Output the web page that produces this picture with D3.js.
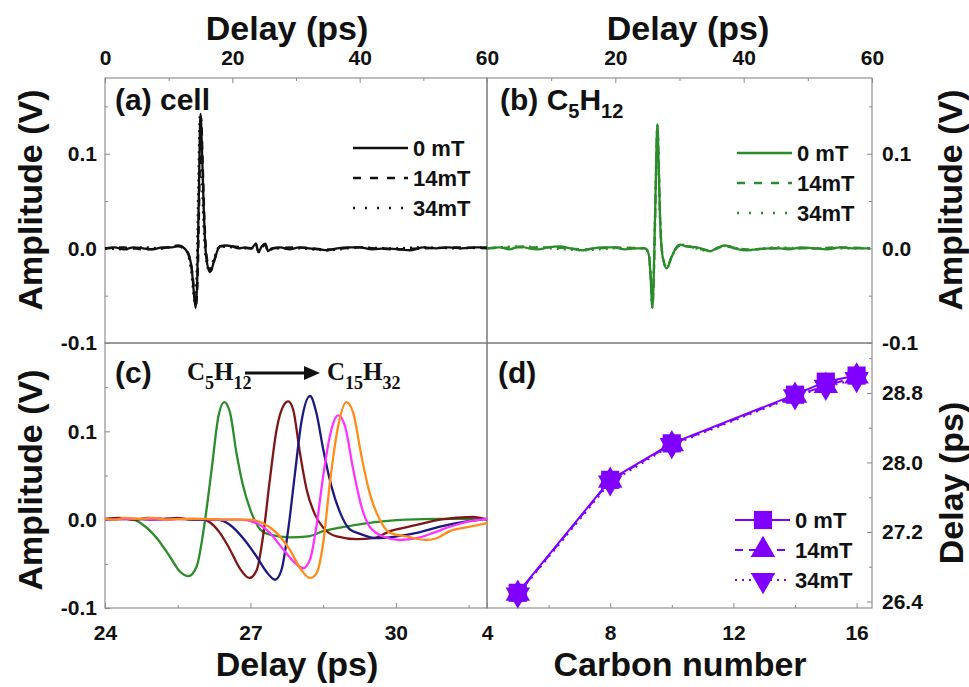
<!DOCTYPE html>
<html>
<head>
<meta charset="utf-8">
<script src="https://cdnjs.cloudflare.com/ajax/libs/d3/7.8.5/d3.min.js"></script>
<style>
body { margin: 0; background: #fff; }
svg text { font-family: "Liberation Sans", Arial, sans-serif; font-weight: bold; fill: #111; }
</style>
</head>
<body>
<svg id="chart" width="969" height="687"></svg>
<script>
// ---- data ----
// (a) empty cell, [delay ps, amplitude V]
var cell0mT = [[0,0],[1.5,0.001],[3,-0.001],[4.5,0.001],[6,0],[7.5,-0.001],[9,0.001],[10.5,0.001],[11.5,0.003],[12.3,0.001],
  [13.0,-0.005],[13.6,-0.02],[14.0,-0.05],[14.25,-0.063],[14.5,-0.03],[14.75,0.06],[15.0,0.142],[15.25,0.1],[15.5,0.044],
  [15.9,-0.009],[16.5,-0.025],[17.2,-0.012],[18.0,0.002],[19,0.003],[20,0.002],[21,0],[22,0.001],[23,0],[23.7,0.005],
  [24.1,-0.004],[24.6,0.002],[25.2,0.005],[25.6,-0.003],[26.2,0],[27.5,0.001],[29,-0.001],[30.5,0.001],[32,0],[33.5,-0.001],
  [35,-0.002],[36.5,0],[38,0.001],[40,0.001],[42,-0.001],[44,0],[46,-0.001],[48,-0.002],[50,0.001],[52,0],[54,0.001],
  [56,0],[58,0.001],[60,0.001]];
var cell14mT = [[0,0],[3,0.001],[6,-0.001],[9,0],[11.5,0.002],[13.0,-0.004],[13.7,-0.025],[14.3,-0.06],[14.6,-0.02],
  [14.85,0.07],[15.1,0.138],[15.35,0.09],[15.6,0.035],[16.0,-0.01],[16.6,-0.024],[17.3,-0.01],[18.1,0.002],[20,0.002],
  [23,0],[23.7,0.004],[24.1,-0.004],[25.2,0.004],[25.6,-0.003],[26.5,0],[30,0.001],[35,-0.001],[40,0.001],[45,-0.001],
  [50,0],[55,0.001],[60,0]];
var cell34mT = [[0,0],[3,-0.001],[6,0.001],[9,0],[11.5,0.003],[12.9,-0.004],[13.5,-0.022],[14.15,-0.058],[14.4,-0.025],
  [14.65,0.06],[14.9,0.14],[15.15,0.095],[15.4,0.04],[15.8,-0.008],[16.4,-0.024],[17.1,-0.011],[18.0,0.002],[20,0.001],
  [23,0],[23.7,0.005],[24.1,-0.003],[25.2,0.004],[25.6,-0.003],[26.5,0],[30,0],[35,-0.002],[40,0.001],[45,0],
  [50,0.001],[55,0],[60,0.001]];

// (b) C5H12
var pent0mT = [[0,0],[2,0.001],[3.5,-0.001],[5.1,0.002],[6.5,0],[8,-0.001],[9.5,0.001],[11.4,0.002],[13,0],[15,-0.002],
  [16.5,0],[18,0.001],[19.8,0.001],[21.5,-0.001],[23,0],[24.6,0],[25.2,-0.006],[25.5,-0.03],[25.76,-0.063],[26.0,-0.025],
  [26.3,0.07],[26.55,0.131],[26.75,0.09],[26.96,0.033],[27.38,-0.009],[28.0,-0.021],[28.78,-0.009],[29.5,0.001],
  [30.1,0.004],[31,0.002],[32.7,0.001],[33.8,-0.001],[34.75,-0.003],[36,0.001],[37.1,0.003],[38.5,0],[40.5,-0.002],
  [42,-0.001],[44,0],[45.7,0],[47,-0.001],[49,0.001],[50.9,0],[53,-0.001],[55,0.001],[57,0],[59.7,0]];
var pent14mT = [[0,0],[5,0.001],[10,0.001],[15,-0.001],[20,0.001],[24.6,0],[25.2,-0.005],[25.5,-0.028],[25.78,-0.062],
  [26.02,-0.024],[26.32,0.068],[26.57,0.129],[26.77,0.088],[26.98,0.032],[27.4,-0.009],[28.0,-0.02],[28.8,-0.008],
  [30.1,0.003],[34.7,-0.002],[37.1,0.002],[40.5,-0.001],[45,0],[50,0],[55,0.001],[59.7,0]];
var pent34mT = [[0,0],[5,0.002],[10,0],[15,-0.002],[20,0],[24.6,0],[25.2,-0.006],[25.5,-0.03],[25.75,-0.062],
  [26.0,-0.025],[26.3,0.069],[26.55,0.13],[26.75,0.089],[26.96,0.033],[27.4,-0.01],[28.0,-0.021],[28.8,-0.009],
  [30.1,0.004],[34.7,-0.003],[37.1,0.003],[40.5,-0.002],[45,0.001],[50,0],[55,0],[59.7,0]];

// (c) C5H12 -> C15H32, 0 mT
var c5 = [[24,0],[24.3,0.001],[24.58,0],[24.79,-0.006],[25.07,-0.021],[25.34,-0.042],[25.55,-0.059],[25.72,-0.064],
  [25.89,-0.053],[26.06,-0.002],[26.2,0.057],[26.34,0.117],[26.46,0.133],[26.58,0.121],[26.71,0.076],[26.85,0.038],
  [27.02,0.008],[27.2,-0.011],[27.4,-0.017],[27.81,-0.02],[28.19,-0.019],[28.5,-0.013],[28.85,-0.009],[29.53,-0.003],
  [30.22,0],[30.91,0.001],[31.88,0.001]];
var c8 = [[24,0.001],[24.3,0.002],[24.6,0],[24.9,0.002],[25.2,0.001],[25.5,0.002],[25.8,0],[26.03,0],[26.16,-0.003],
  [26.37,-0.015],[26.58,-0.034],[26.78,-0.055],[26.98,-0.066],[27.13,-0.057],[27.26,-0.019],[27.4,0.045],[27.54,0.102],
  [27.68,0.129],[27.78,0.134],[27.88,0.125],[28.02,0.076],[28.16,0.034],[28.33,0.006],[28.5,-0.009],[28.78,-0.019],
  [29.19,-0.022],[29.53,-0.021],[29.88,-0.013],[30.43,-0.006],[30.91,0],[31.59,0.003],[31.88,0]];
var c10 = [[24,0],[24.5,0.001],[25,0],[25.5,0.001],[26,0],[26.3,0],[26.58,-0.006],[26.85,-0.021],[27.13,-0.042],
  [27.33,-0.059],[27.51,-0.068],[27.64,-0.057],[27.78,-0.011],[27.92,0.053],[28.05,0.11],[28.23,0.14],[28.36,0.121],
  [28.5,0.08],[28.67,0.038],[28.85,0.008],[29.05,-0.011],[29.26,-0.016],[29.6,-0.021],[30.01,-0.019],[30.43,-0.015],
  [30.91,-0.008],[31.46,-0.002],[31.88,0.001]];
var c14 = [[24,0],[24.6,0.001],[25.2,0],[25.8,0.001],[26.4,0],[26.78,0],[27.13,-0.004],[27.4,-0.015],[27.68,-0.034],
  [27.92,-0.049],[28.09,-0.055],[28.23,-0.045],[28.36,-0.008],[28.5,0.049],[28.64,0.095],[28.81,0.118],[28.95,0.106],
  [29.12,0.057],[29.29,0.015],[29.46,-0.008],[29.74,-0.019],[30.08,-0.023],[30.43,-0.021],[30.77,-0.015],[31.11,-0.008],
  [31.59,-0.001],[31.88,0.001]];
var c16 = [[24,0.001],[24.2,0],[24.4,0.002],[24.7,0.001],[25,0.002],[25.3,0],[25.6,0.001],[26,0.001],[26.5,0],
  [26.99,0],[27.26,-0.004],[27.54,-0.015],[27.81,-0.034],[28.05,-0.057],[28.23,-0.066],[28.36,-0.061],[28.5,-0.027],
  [28.64,0.042],[28.81,0.106],[28.98,0.133],[29.12,0.121],[29.29,0.072],[29.46,0.03],[29.67,0],[29.88,-0.015],
  [30.22,-0.019],[30.63,-0.023],[30.84,-0.021],[31.11,-0.013],[31.53,-0.008],[31.88,-0.004]];
var cSeries = [c5, c8, c10, c14, c16];
var cColors = ["#2a8c2a", "#801515", "#1a1a80", "#ff33ff", "#ff8c1a"];

// (d) peak delay vs carbon number
var carbonNumber = [5, 8, 10, 14, 15, 16];
var delay0mT = [26.50, 27.80, 28.22, 28.78, 28.93, 29.00];
var delay14mT = [26.49, 27.79, 28.21, 28.77, 28.88, 28.99];
var delay34mT = [26.48, 27.77, 28.20, 28.76, 28.87, 28.96];

var fieldLabels = ["0 mT", "14mT", "34mT"];

// ticks
var delayTicks = [0, 20, 40, 60], delayMinor = [10, 30, 50];
var ampTicks = [-0.1, 0, 0.1], ampMinor = [-0.05, 0.05, 0.15];
var cTicks = [24, 27, 30], cMinor = [25.5, 28.5, 31.5];
var cAmpTicks = [-0.1, 0, 0.1, 0.2];
var carbonTicks = [4, 8, 12, 16], carbonMinor = [6, 10, 14];
var dTicks = [26.4, 27.2, 28.0, 28.8], dMinor = [26.8, 27.6, 28.4, 29.2];

// ---- layout ----
var L = 105, M = 487, R = 872, T = 78, H = 343, B = 608;
var svg = d3.select("#chart");

var xA = d3.scaleLinear().domain([0, 60]).range([L, M]);
var xB = d3.scaleLinear().domain([0, 60]).range([M, R]);
var yTop = d3.scaleLinear().domain([-0.1, 0.18]).range([H, T]);
var xC = d3.scaleLinear().domain([24, 31.88]).range([L, M]);
var yC = d3.scaleLinear().domain([-0.1, 0.2]).range([B, H]);
var xD = d3.scaleLinear().domain([4, 16.5]).range([M, R]);
var yD = d3.scaleLinear().domain([26.325, 29.375]).range([B, H]);

var f1 = function(d) { return d.toFixed(1); };

function addAxis(axisFn, scale, major, minor, fmt, pos, pad) {
  var gm = svg.append("g").attr("transform", pos)
    .call(axisFn(scale).tickValues(minor).tickSize(-3).tickFormat(""));
  var g = svg.append("g").attr("transform", pos)
    .call(axisFn(scale).tickValues(major).tickSize(-5).tickPadding(pad).tickFormat(fmt));
  [gm, g].forEach(function(s) {
    s.select(".domain").remove();
    s.selectAll(".tick line").attr("stroke", "#8a8a8a");
    s.attr("font-size", 21).attr("font-family", null);
  });
  return g;
}

// frames
[[L, T, M - L, H - T], [M, T, R - M, H - T], [L, H, M - L, B - H], [M, H, R - M, B - H]].forEach(function(r) {
  svg.append("rect").attr("x", r[0]).attr("y", r[1]).attr("width", r[2]).attr("height", r[3])
    .attr("fill", "none").attr("stroke", "#7a7a7a").attr("stroke-width", 1);
});

// axes
addAxis(d3.axisTop, xA, delayTicks, delayMinor, d3.format("d"), "translate(0," + T + ")", 13);
addAxis(d3.axisTop, xB, delayTicks, delayMinor, function(d) { return d == 0 ? "" : d; }, "translate(0," + T + ")", 13);
addAxis(d3.axisLeft, yTop, ampTicks, ampMinor, f1, "translate(" + L + ",0)", 8);
addAxis(d3.axisRight, yTop, ampTicks, ampMinor, f1, "translate(" + R + ",0)", 10);
addAxis(d3.axisLeft, yC, cAmpTicks, ampMinor, function(d) { return d > 0.15 ? "" : d.toFixed(1); }, "translate(" + L + ",0)", 8);
addAxis(d3.axisBottom, xC, cTicks, cMinor, d3.format("d"), "translate(0," + B + ")", 17);
addAxis(d3.axisBottom, xD, carbonTicks, carbonMinor, d3.format("d"), "translate(0," + B + ")", 17);
addAxis(d3.axisRight, yD, dTicks, dMinor, f1, "translate(" + R + ",0)", 10);

// axis titles
function title(txt, x, y, rot) {
  svg.append("text").attr("transform", "translate(" + x + "," + y + ")" + (rot ? " rotate(-90)" : ""))
    .attr("text-anchor", "middle").attr("font-size", 34).text(txt);
}
title("Delay (ps)", 287, 40);
title("Delay (ps)", 688, 40);
title("Delay (ps)", 297, 676);
title("Carbon number", 680, 676);
title("Amplitude (V)", 42, 200, true);
title("Amplitude (V)", 42, 480, true);
title("Amplitude (V)", 962, 200, true);
title("Delay (ps)", 963, 483, true);

// ---- (a) and (b) traces ----
var dashes = [null, "8,6", "2,5"];
function trace(data, xs, ys, color, dash, w) {
  var line = d3.line().x(function(d) { return xs(d[0]); }).y(function(d) { return ys(d[1]); })
    .curve(d3.curveMonotoneX);
  svg.append("path").datum(data).attr("d", line).attr("fill", "none")
    .attr("stroke", color).attr("stroke-width", w).attr("stroke-dasharray", dash);
}
[cell0mT, cell14mT, cell34mT].forEach(function(d, i) { trace(d, xA, yTop, "#111", dashes[i], 2.3); });
[pent0mT, pent14mT, pent34mT].forEach(function(d, i) { trace(d, xB, yTop, "#2a8c2a", dashes[i], 2.3); });

// legends for (a),(b)
function lineLegend(x0, y0, color) {
  var legDash = [null, "8,9", "2,10"];
  fieldLabels.forEach(function(lab, i) {
    var y = y0 + i * 30;
    svg.append("line").attr("x1", x0).attr("x2", x0 + 55).attr("y1", y).attr("y2", y)
      .attr("stroke", color).attr("stroke-width", 2.3).attr("stroke-dasharray", legDash[i]);
    svg.append("text").attr("x", x0 + 60).attr("y", y + 8).attr("font-size", 22).text(lab);
  });
}
lineLegend(353, 148, "#111");
lineLegend(737, 153, "#2a8c2a");

// ---- (c) traces ----
cSeries.forEach(function(d, i) { trace(d, xC, yC, cColors[i], null, 2.3); });

// ---- (d) ----
var purple = "#8000ff";
var dSeries = [delay0mT, delay14mT, delay34mT];
var sym = [d3.symbol().type(d3.symbolSquare).size(330), d3.symbol().type(d3.symbolTriangle).size(260),
  d3.symbol().type(d3.symbolTriangle).size(260)];
var rot = ["", "", " rotate(180)"];
var dLine = d3.line().x(function(d) { return xD(d[0]); }).y(function(d) { return yD(d[1]); });
dSeries.forEach(function(vals, i) {
  var pts = carbonNumber.map(function(c, j) { return [c, vals[j]]; });
  svg.append("path").datum(pts).attr("d", dLine).attr("fill", "none")
    .attr("stroke", purple).attr("stroke-width", 2).attr("stroke-dasharray", dashes[i]);
});
dSeries.forEach(function(vals, i) {
  svg.selectAll(".m" + i).data(vals).enter().append("path")
    .attr("class", "m" + i)
    .attr("d", sym[i])
    .attr("transform", function(d, j) { return "translate(" + xD(carbonNumber[j]) + "," + yD(d) + ")" + rot[i]; })
    .attr("fill", purple);
});
fieldLabels.forEach(function(lab, i) {
  var y = 520 + i * 30;
  svg.append("line").attr("x1", 735).attr("x2", 790).attr("y1", y).attr("y2", y)
    .attr("stroke", purple).attr("stroke-width", 2).attr("stroke-dasharray", [null, "8,6", "2,5"][i]);
  svg.append("path").attr("d", sym[i]).attr("transform", "translate(763," + y + ")" + rot[i]).attr("fill", purple);
  svg.append("text").attr("x", 795).attr("y", y + 8).attr("font-size", 22).text(lab);
});

// ---- panel labels ----
svg.append("text").attr("x", 115).attr("y", 110).attr("font-size", 30).text("(a) cell");
var lb = svg.append("text").attr("x", 500).attr("y", 110).attr("font-size", 30);
lb.append("tspan").text("(b) C");
lb.append("tspan").attr("font-size", 20).attr("dy", 8).text("5");
lb.append("tspan").attr("dy", -8).text("H");
lb.append("tspan").attr("font-size", 20).attr("dy", 8).text("12");
svg.append("text").attr("x", 115).attr("y", 383).attr("font-size", 30).text("(c)");
svg.append("text").attr("x", 498).attr("y", 383).attr("font-size", 30).text("(d)");

function formula(x, a, b) {
  var t = svg.append("text").attr("x", x).attr("y", 380).attr("font-size", 25)
    .style("font-family", '"Liberation Serif", "Times New Roman", serif');
  t.append("tspan").text("C");
  t.append("tspan").attr("font-size", 18).attr("dy", 9).text(a);
  t.append("tspan").attr("dy", -9).text("H");
  t.append("tspan").attr("font-size", 18).attr("dy", 9).text(b);
}
formula(187, "5", "12");
formula(327, "15", "32");
svg.append("line").attr("x1", 245).attr("x2", 308).attr("y1", 373).attr("y2", 373)
  .attr("stroke", "#111").attr("stroke-width", 3);
svg.append("path").attr("d", "M320,373L304,366L304,380Z").attr("fill", "#111");
</script>
</body>
</html>
